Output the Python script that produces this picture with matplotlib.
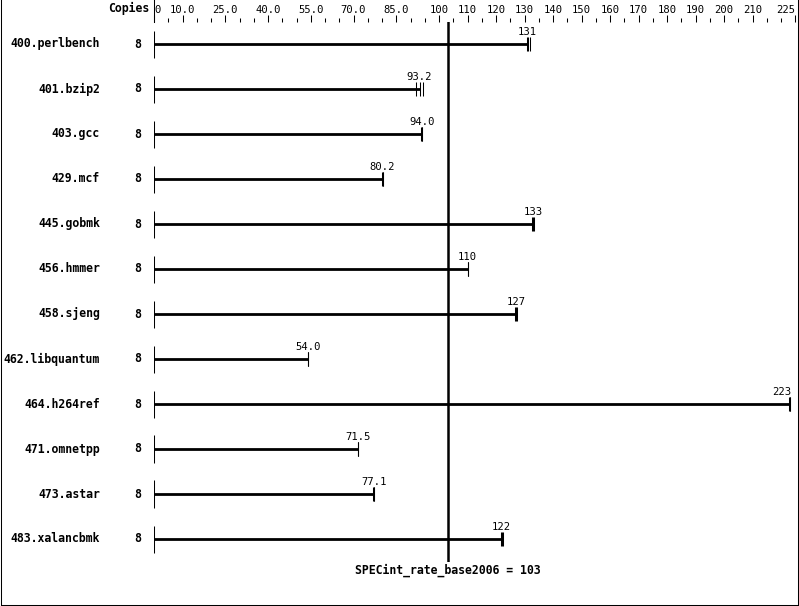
import matplotlib
matplotlib.use('Agg')
import matplotlib.pyplot as plt
from matplotlib.lines import Line2D

# SPECint_rate_base2006 results, 8 copies each
benchmarks = ['400.perlbench', '401.bzip2', '403.gcc', '429.mcf', '445.gobmk',
              '456.hmmer', '458.sjeng', '462.libquantum', '464.h264ref',
              '471.omnetpp', '473.astar', '483.xalancbmk']
copies = [8, 8, 8, 8, 8, 8, 8, 8, 8, 8, 8, 8]
ratios = [131, 93.2, 94.0, 80.2, 133, 110, 127, 54.0, 223, 71.5, 77.1, 122]
ratio_text = ['131', '93.2', '94.0', '80.2', '133', '110', '127', '54.0',
              '223', '71.5', '77.1', '122']
# individual runs (tick marks at the bar end)
runs = [
    [130.8, 131.1, 131.9],
    [92.0, 93.2, 94.3],
    [93.8, 94.0, 94.2],
    [80.0, 80.2, 80.4],
    [132.8, 133.1, 133.4],
    [110, 110, 110],
    [126.8, 127.0, 127.3],
    [54.0, 54.0, 54.0],
    [222.8, 223.0, 223.3],
    [71.5, 71.5, 71.5],
    [76.9, 77.1, 77.3],
    [121.8, 122.0, 122.3],
]
base_score = 103
axis_ticks = [0, 10, 25, 40, 55, 70, 85, 100, 110, 120, 130, 140, 150, 160,
              170, 180, 190, 200, 210, 225]
axis_labels = ['0', '10.0', '25.0', '40.0', '55.0', '70.0', '85.0', '100', '110',
               '120', '130', '140', '150', '160', '170', '180', '190', '200',
               '210', '225']

plt.rcParams['font.family'] = ['DejaVu Sans Mono']

W, H = 799, 606
fig = plt.figure(figsize=(W / 100, H / 100), dpi=100)
ax_left, ax_right, ax_top, ax_bottom = 154, 797, 22, 562
ax_w, ax_h = ax_right - ax_left, ax_bottom - ax_top
ax = fig.add_axes([ax_left / W, 1 - ax_bottom / H, ax_w / W, ax_h / H])

px_per_unit = 2.85
row_gap = 45
first_row = 44
ax.set_xlim(0, ax_w / px_per_unit)
ax.set_ylim((ax_bottom - first_row) / row_gap, -(first_row - ax_top) / row_gap)

for s in ax.spines.values():
    s.set_visible(False)

ax.xaxis.tick_top()
ax.set_xticks(axis_ticks)
ax.set_xticklabels(axis_labels)
ax.set_xticks([v for v in range(5, 225, 5) if v not in axis_ticks], minor=True)
ax.tick_params(axis='x', which='major', length=5, width=0.75, pad=0.3,
               labelsize=7.6, direction='out')
ax.tick_params(axis='x', which='minor', length=2.8, width=0.75, direction='out')
ax.set_yticks([])
lbls = ax.get_xticklabels()
lbls[0].set_horizontalalignment('left')
lbls[-1].set_horizontalalignment('right')

# separator at zero on the scale row
ax.plot([0, 0], [1, 1 + ax_top / ax_h],
        transform=ax.get_xaxis_transform(), color='black', lw=0.75, clip_on=False)

ax.axvline(base_score, color='black', lw=1.8)

ax.text(-5 / ax_w, 1 + 14 / ax_h, 'Copies', transform=ax.transAxes,
        ha='right', va='center', fontsize=8.3, fontweight='bold')

ytr = ax.get_yaxis_transform()
for i, name in enumerate(benchmarks):
    ax.text(-54 / ax_w, i, name, transform=ytr, ha='right',
            va='center', fontsize=8.3, fontweight='bold')
    ax.text(-16 / ax_w, i, str(copies[i]), transform=ytr,
            ha='center', va='center', fontsize=8.3, fontweight='bold')
    ax.vlines(0, i - 0.3, i + 0.3, color='black', lw=0.75)
    ax.hlines(i, 0, ratios[i], color='black', lw=2)
    ax.vlines(runs[i], i - 0.16, i + 0.16, color='black', lw=0.75)
    ha = 'right' if ratios[i] > 215 else 'center'
    xt = ratios[i] + 0.5 if ha == 'right' else ratios[i]
    ax.text(xt, i - 0.19, ratio_text[i], ha=ha, va='baseline', fontsize=7.6)

ax.text(base_score, -8 / ax_h, f'SPECint_rate_base2006 = {base_score}',
        transform=ax.get_xaxis_transform(), ha='center', va='center',
        fontsize=8.3, fontweight='bold')

# frame around the picture (left, right, bottom)
fig.add_artist(Line2D([0.5 / W, 0.5 / W], [1, 1.5 / H], color='black', lw=0.75))
fig.add_artist(Line2D([797.5 / W, 797.5 / W], [1, 1.5 / H], color='black', lw=0.75))
fig.add_artist(Line2D([0.5 / W, 797.5 / W], [1.5 / H, 1.5 / H], color='black', lw=0.75))

fig.savefig('out.png', dpi=100)
